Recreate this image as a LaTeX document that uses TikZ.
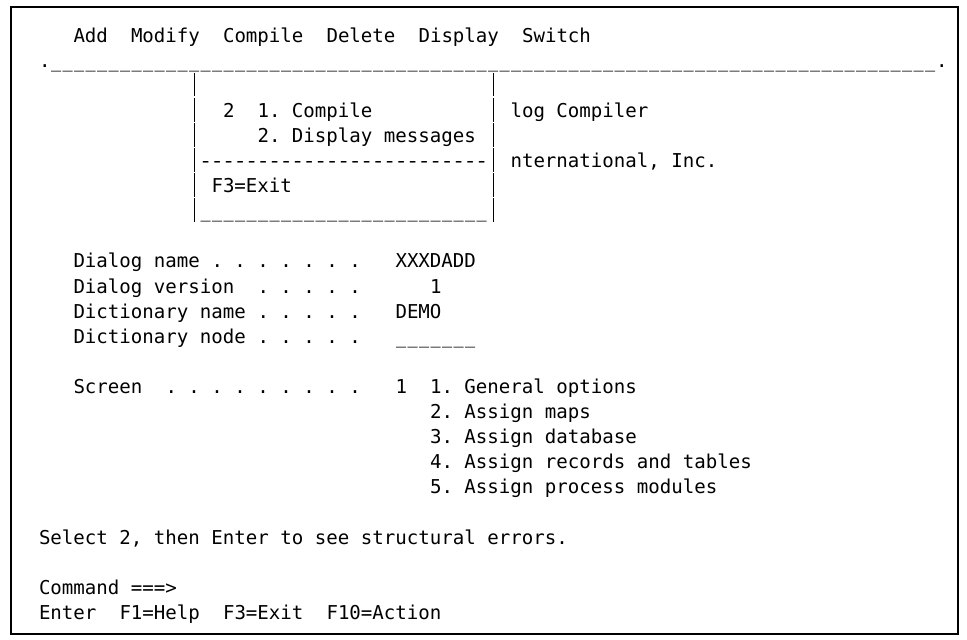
\documentclass[tikz,border=0pt]{standalone}
\usepackage{fontspec}
\usepackage{graphicx}
\setmonofont{DejaVu Sans Mono}
\ExplSyntaxOn
\NewDocumentCommand\rep{mm}{\prg_replicate:nn{#1}{#2}}
\ExplSyntaxOff
% character grid of the 3270 screen: column -> x, row -> baseline y
\newcommand\colx[1]{(16+11.5*(#1))}
\newcommand\rowy[1]{(16.9+25.1*(#1))}
% one screen cell holding an underscore or a hyphen, drawn a bit short
\newcommand\uscell{\makebox[11.5pt][c]{\scalebox{0.88}[1]{\_}}}
\newcommand\hycell{\makebox[11.5pt][c]{\scalebox{1.15}[1]{-}}}
\begin{document}
\begin{tikzpicture}[x=1pt,y=-1pt,
  scr/.style={anchor=base west,inner sep=0pt,outer sep=0pt,
    font=\ttfamily\frenchspacing\fontsize{19.1}{25}\selectfont},
  bar/.style={line width=1.3pt,black}]
\useasboundingbox (0,0) rectangle (967,640);
\fill[white] (0,0) rectangle (967,640);
% screen frame
\draw[line width=2pt] (10.5,7) rectangle (958,634);

% row 1: action bar
\node[scr] (mAdd) at ({\colx{5}},{\rowy{1}}) {Add};
\node[scr] (mModify) at ({\colx{10}},{\rowy{1}}) {Modify};
\node[scr] (mCompile) at ({\colx{18}},{\rowy{1}}) {Compile};
\node[scr] (mDelete) at ({\colx{27}},{\rowy{1}}) {Delete};
\node[scr] (mDisplay) at ({\colx{35}},{\rowy{1}}) {Display};
\node[scr] (mSwitch) at ({\colx{44}},{\rowy{1}}) {Switch};

% row 2: separator rule
\node[scr] (dotL) at ({\colx{2}},{\rowy{2}}) {.};
\node[scr] (rule) at ({\colx{3}},{\rowy{2}}) {\rep{77}{\uscell}};
\node[scr] (dotR) at ({\colx{80}},{\rowy{2}}) {.};

% pull-down window under Compile: one bar segment per screen row
\foreach \r in {2,...,7}{
  \draw[bar] ({\colx{15}+5.75},{\rowy{\r}+5.8}) -- ({\colx{15}+5.75},{\rowy{\r+1}+4.2});
  \draw[bar] ({\colx{41}+5.75},{\rowy{\r}+5.8}) -- ({\colx{41}+5.75},{\rowy{\r+1}+4.2});
}
\node[scr] (pSel) at ({\colx{18}},{\rowy{4}}) {2};
\node[scr] (pOpt1) at ({\colx{21}},{\rowy{4}}) {1. Compile};
\node[scr] (pOpt2) at ({\colx{21}},{\rowy{5}}) {2. Display messages};
\node[scr] (pSep) at ({\colx{16}},{\rowy{6}}) {\rep{25}{\hycell}};
\node[scr] (pKey) at ({\colx{17}},{\rowy{7}}) {F3=Exit};
\node[scr] (pBot) at ({\colx{16}},{\rowy{8}}) {\rep{25}{\uscell}};

% title text partly hidden by the window
\node[scr] (title1) at ({\colx{43}},{\rowy{4}}) {log Compiler};
\node[scr] (title2) at ({\colx{43}},{\rowy{6}}) {nternational, Inc.};

% dialog fields
\node[scr] (fName) at ({\colx{5}},{\rowy{10}}) {Dialog name};
\node[scr] (dName) at ({\colx{17}},{\rowy{10}}) {. . . . . . .};
\node[scr] (vName) at ({\colx{33}},{\rowy{10}}) {XXXDADD};
\node[scr] (fVer) at ({\colx{5}},{\rowy{11}}) {Dialog version};
\node[scr] (dVer) at ({\colx{21}},{\rowy{11}}) {. . . . .};
\node[scr] (vVer) at ({\colx{36}},{\rowy{11}}) {1};
\node[scr] (fDict) at ({\colx{5}},{\rowy{12}}) {Dictionary name};
\node[scr] (dDict) at ({\colx{21}},{\rowy{12}}) {. . . . .};
\node[scr] (vDict) at ({\colx{33}},{\rowy{12}}) {DEMO};
\node[scr] (fNode) at ({\colx{5}},{\rowy{13}}) {Dictionary node};
\node[scr] (dNode) at ({\colx{21}},{\rowy{13}}) {. . . . .};
\node[scr] (vNode) at ({\colx{33}},{\rowy{13}}) {\rep{7}{\uscell}};

% screen selection
\node[scr] (fScr) at ({\colx{5}},{\rowy{15}}) {Screen};
\node[scr] (dScr) at ({\colx{13}},{\rowy{15}}) {. . . . . . . . .};
\node[scr] (vScr) at ({\colx{33}},{\rowy{15}}) {1};
\node[scr] (s1) at ({\colx{36}},{\rowy{15}}) {1. General options};
\node[scr] (s2) at ({\colx{36}},{\rowy{16}}) {2. Assign maps};
\node[scr] (s3) at ({\colx{36}},{\rowy{17}}) {3. Assign database};
\node[scr] (s4) at ({\colx{36}},{\rowy{18}}) {4. Assign records and tables};
\node[scr] (s5) at ({\colx{36}},{\rowy{19}}) {5. Assign process modules};

% message, command line and function keys
\node[scr] (msg) at ({\colx{2}},{\rowy{21}}) {Select 2, then Enter to see structural errors.};
\node[scr] (cmd) at ({\colx{2}},{\rowy{23}}) {Command ===>};
\node[scr] (kEnter) at ({\colx{2}},{\rowy{24}}) {Enter};
\node[scr] (kF1) at ({\colx{9}},{\rowy{24}}) {F1=Help};
\node[scr] (kF3) at ({\colx{18}},{\rowy{24}}) {F3=Exit};
\node[scr] (kF10) at ({\colx{27}},{\rowy{24}}) {F10=Action};
\end{tikzpicture}
\end{document}
